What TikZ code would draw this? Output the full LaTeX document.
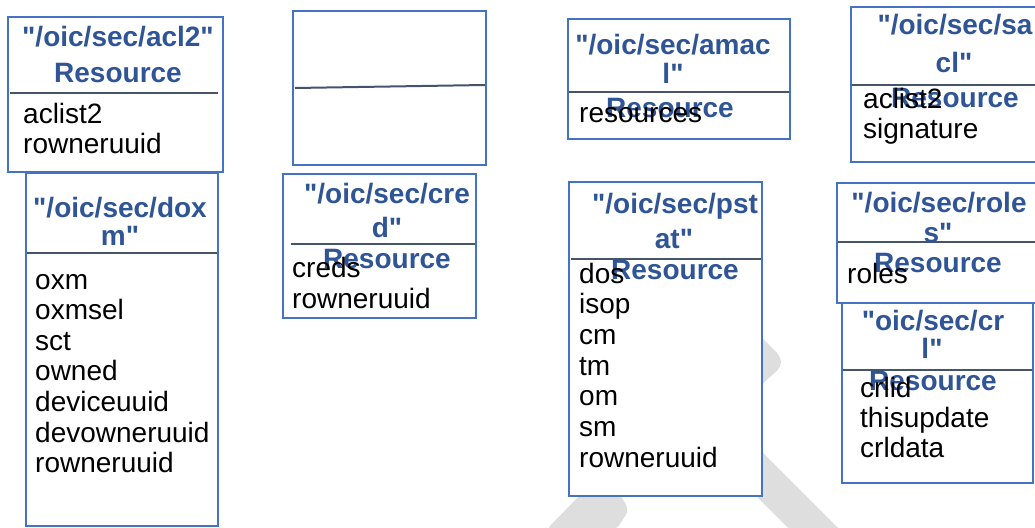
\documentclass[tikz,border=0pt]{standalone}
\usepackage{fontspec}
\setmainfont{Liberation Sans}[Ligatures=TeXReset]
\definecolor{boxblue}{HTML}{4472C4}
\definecolor{ttlblue}{HTML}{2F5597}
\definecolor{divcol}{HTML}{44546A}
\definecolor{wmark}{HTML}{DEDEDE}
\newcommand{\dqt}{\symbol{34}}
\tikzset{
  box/.style={draw=boxblue, line width=2.7pt, fill=white, anchor=north west, inner sep=0pt, outer sep=0pt},
  ttl/.style={font=\bfseries\fontsize{28}{33}\selectfont, text=ttlblue, anchor=base, inner sep=0pt},
  bod/.style={font=\fontsize{28}{30.6}\selectfont, text=black, anchor=base west, inner sep=0pt},
  divider/.style={draw=divcol, line width=2pt},
  wm/.style={fill=wmark, draw=none, rounded corners=6pt}
}
\begin{document}
\begin{tikzpicture}[x=1pt,y=-1pt]
\useasboundingbox (0,0) rectangle (1035,527);
\clip (0,0) rectangle (1035,527);
% watermark fragments
\fill[wm] (546,530) -- (581,494) -- (620,494) -- (629,510) -- (616,530) -- cycle;
\fill[wm] (758,334) -- (781,357) -- (781,367) -- (758,388) -- cycle;
\fill[wm, rounded corners=0pt] (758,448) -- (840,530) -- (790,530) -- (758,498) -- cycle;
% boxes
\node[box, minimum width=192pt, minimum height=353pt] (dox) at (26,173) {};
\node[box, minimum width=215pt, minimum height=155pt] (acl) at (8,17) {};
\node[box, minimum width=193pt, minimum height=154pt] (empty) at (293,11) {};
\node[box, minimum width=193pt, minimum height=144pt] (cred) at (283,174) {};
\node[box, minimum width=222pt, minimum height=120pt] (amacl) at (568,19) {};
\node[box, minimum width=193pt, minimum height=314pt] (pstat) at (569,182) {};
\node[box, minimum width=210pt, minimum height=155pt] (sacl) at (851,7) {};
\node[box, minimum width=210pt, minimum height=120pt] (roles) at (837,183) {};
\node[box, minimum width=191pt, minimum height=180pt] (crl) at (842,303) {};
% dividers
\draw[divider] (10,93) -- (218,93);
\draw[divider] (27,253) -- (217,253);
\draw[divider] (295,88) -- (485,85);
\draw[divider] (291,244) -- (475,244);
\draw[divider] (569,92) -- (789,92);
\draw[divider] (571,259) -- (761,259);
\draw[divider] (852,85) -- (1040,85);
\draw[divider] (838,242) -- (1040,242);
\draw[divider] (843,370) -- (1032,370);
% titles
\node[ttl] (aclt1) at (118,47) {\dqt/oic/sec/acl2\dqt};
\node[ttl] (aclt2) at (118,82) {Resource};
\node[ttl] (doxt1) at (120,217) {\dqt/oic/sec/dox};
\node[ttl] (doxt2) at (120,245) {m\dqt};
\node[ttl] (credt1) at (387,203) {\dqt/oic/sec/cre};
\node[ttl] (credt2) at (387,237) {d\dqt};
\node[ttl] (credt3) at (387,268) {Resource};
\node[ttl] (amaclt1) at (673,55) {\dqt/oic/sec/amac};
\node[ttl] (amaclt2) at (673,83) {l\dqt};
\node[ttl] (amaclt3) at (670,117) {Resource};
\node[ttl] (pstatt1) at (675,213) {\dqt/oic/sec/pst};
\node[ttl] (pstatt2) at (674,248) {at\dqt};
\node[ttl] (pstatt3) at (675,279) {Resource};
\node[ttl] (saclt1) at (955,35) {\dqt/oic/sec/sa};
\node[ttl] (saclt2) at (954,72) {cl\dqt};
\node[ttl] (saclt3) at (955,107) {Resource};
\node[ttl] (rolest1) at (939,212) {\dqt/oic/sec/role};
\node[ttl] (rolest2) at (938,242) {s\dqt};
\node[ttl] (rolest3) at (938,272) {Resource};
\node[ttl] (crlt1) at (933,330) {\dqt oic/sec/cr};
\node[ttl] (crlt2) at (932,358) {l\dqt};
\node[ttl] (crlt3) at (933,390) {Resource};
% bodies
\foreach \t [count=\i] in {aclist2,rowneruuid}
  \node[bod] (aclb\i) at (23,{123+30*(\i-1)}) {\t};
\foreach \t [count=\i] in {oxm,oxmsel,sct,owned,deviceuuid,devowneruuid,rowneruuid}
  \node[bod] (doxb\i) at (35,{289+30.65*(\i-1)}) {\t};
\foreach \t [count=\i] in {creds,rowneruuid}
  \node[bod] (credb\i) at (292,{277+31*(\i-1)}) {\t};
\node[bod] (amaclb1) at (579,122) {resources};
\foreach \t [count=\i] in {dos,isop,cm,tm,om,sm,rowneruuid}
  \node[bod] (pstatb\i) at (579,{283+30.7*(\i-1)}) {\t};
\foreach \t [count=\i] in {aclist2,signature}
  \node[bod] (saclb\i) at (863,{108+30*(\i-1)}) {\t};
\node[bod] (rolesb1) at (847,283) {roles};
\foreach \t [count=\i] in {crlid,thisupdate,crldata}
  \node[bod] (crlb\i) at (860,{397+30*(\i-1)}) {\t};
\end{tikzpicture}
\end{document}
